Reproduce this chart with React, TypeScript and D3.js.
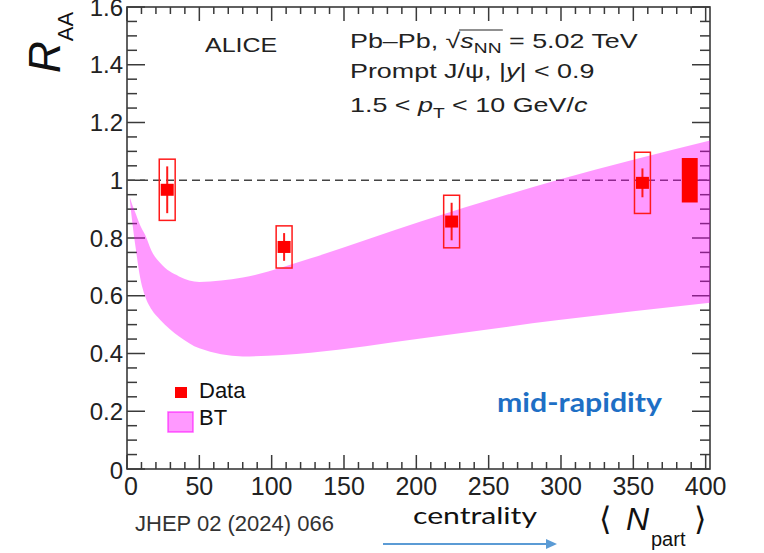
import React, { useEffect, useRef } from 'react';
import * as d3 from 'd3';

// prompt J/psi R_AA vs <Npart>, ALICE Pb-Pb 5.02 TeV
const npart = [27.8, 108.6, 224.4, 356.3];
const raa = [0.967, 0.769, 0.857, 0.991];
const statErr = [0.081, 0.048, 0.065, 0.05];
const systErr = [0.106, 0.073, 0.091, 0.106];
const globalX = 389;
const globalErr = 0.077;

// BT model band
const bandN = [2, 4, 6, 9, 12.6, 17, 23, 36, 50, 80, 127, 203, 297, 403];
const bandHi = [0.94, 0.91, 0.885, 0.845, 0.81, 0.755, 0.713, 0.667, 0.648, 0.663, 0.73, 0.857, 1.0, 1.138];
const bandLo = [0.93, 0.84, 0.765, 0.665, 0.597, 0.552, 0.516, 0.459, 0.418, 0.39, 0.403, 0.452, 0.515, 0.576];

const xTickLabels = ['0', '50', '100', '150', '200', '250', '300', '350', '400'];
const yTickLabels = ['0', '0.2', '0.4', '0.6', '0.8', '1', '1.2', '1.4', '1.6'];

const W = 764;
const H = 553;
const FONT = "'Liberation Sans', Arial, Helvetica, sans-serif";

const App = () => {
  const svgRef = useRef<SVGSVGElement>(null);

  useEffect(() => {
    const svg = d3.select(svgRef.current);
    svg.selectAll('*').remove();

    const x = d3.scaleLinear().domain([0, 403]).range([127, 710]);
    const y = d3.scaleLinear().domain([0, 1.6]).range([469, 7]);
    const [x0, x1] = x.range();
    const [y0, y1] = y.range();
    const axisColor = '#3a3a3a';

    svg.append('rect').attr('width', W).attr('height', H).attr('fill', '#fff');

    // frame
    svg.append('rect')
      .attr('x', x0).attr('y', y1)
      .attr('width', x1 - x0).attr('height', y0 - y1)
      .attr('fill', 'none').attr('stroke', axisColor).attr('stroke-width', 1.6);

    // ticks
    const ticks = svg.append('g').attr('stroke', axisColor).attr('stroke-width', 1.5);
    d3.range(0, 401, 10).forEach(v => {
      const len = v % 50 === 0 ? 14 : 7;
      ticks.append('line').attr('x1', x(v)).attr('x2', x(v)).attr('y1', y0).attr('y2', y0 - len);
      ticks.append('line').attr('x1', x(v)).attr('x2', x(v)).attr('y1', y1).attr('y2', y1 + len);
    });
    d3.range(0, 33).forEach(i => {
      const len = i % 4 === 0 ? 18 : 10;
      const yy = y(i * 0.05);
      ticks.append('line').attr('x1', x0).attr('x2', x0 + len).attr('y1', yy).attr('y2', yy);
      ticks.append('line').attr('x1', x1).attr('x2', x1 - len).attr('y1', yy).attr('y2', yy);
    });

    // tick labels
    svg.append('g').selectAll('text')
      .data(xTickLabels)
      .join('text')
      .attr('x', d => x(+d) + (d === '0' ? 4 : 0))
      .attr('y', 495)
      .attr('text-anchor', 'middle')
      .attr('font-family', FONT)
      .attr('font-size', 25)
      .attr('fill', '#222')
      .text(d => d);

    svg.append('g').selectAll('text')
      .data(yTickLabels)
      .join('text')
      .attr('x', 123)
      .attr('y', d => y(+d) + (d === '0' ? 10 : 8.5))
      .attr('text-anchor', 'end')
      .attr('font-family', FONT)
      .attr('font-size', 24)
      .attr('fill', '#222')
      .text(d => d);

    // unity line
    svg.append('line')
      .attr('x1', x0).attr('x2', x1)
      .attr('y1', y(1)).attr('y2', y(1))
      .attr('stroke', '#444').attr('stroke-width', 1.5)
      .attr('stroke-dasharray', '8,5');

    // model band
    const area = d3.area<number>()
      .x((d, i) => x(bandN[i]))
      .y0((d, i) => y(bandLo[i]))
      .y1(d => y(d))
      .curve(d3.curveMonotoneX);
    svg.append('path')
      .attr('d', area(bandHi))
      .attr('fill', '#ff00ff')
      .attr('fill-opacity', 0.4);

    // data
    const boxHalf = 5.5;
    const pts = npart.map((n, i) => ({ n, r: raa[i], st: statErr[i], sy: systErr[i] }));
    const dg = svg.append('g');
    pts.forEach(p => {
      dg.append('rect')
        .attr('x', x(p.n - boxHalf))
        .attr('y', y(p.r + p.sy))
        .attr('width', x(p.n + boxHalf) - x(p.n - boxHalf))
        .attr('height', y(p.r - p.sy) - y(p.r + p.sy))
        .attr('fill', 'none')
        .attr('stroke', '#ff1a1a')
        .attr('stroke-width', 1.5);
      dg.append('line')
        .attr('x1', x(p.n)).attr('x2', x(p.n))
        .attr('y1', y(p.r - p.st)).attr('y2', y(p.r + p.st))
        .attr('stroke', '#ff1a1a').attr('stroke-width', 2);
      dg.append('rect')
        .attr('x', x(p.n) - 6.5).attr('y', y(p.r) - 6)
        .attr('width', 13).attr('height', 12)
        .attr('fill', '#ff0000');
    });
    dg.append('rect')
      .attr('x', x(globalX - boxHalf))
      .attr('y', y(1 + globalErr))
      .attr('width', x(globalX + boxHalf) - x(globalX - boxHalf))
      .attr('height', y(1 - globalErr) - y(1 + globalErr))
      .attr('fill', '#ff0000');

    // y title
    const yt = svg.append('text')
      .attr('transform', 'translate(60,73) rotate(-90)')
      .attr('font-family', FONT)
      .attr('fill', '#111');
    yt.append('tspan').attr('font-size', 44).attr('font-style', 'italic').text('R');
    yt.append('tspan').attr('font-size', 22).attr('dy', 13).text('AA');

    // header texts
    svg.append('text')
      .attr('transform', 'translate(205,52) scale(1.25,1)')
      .attr('font-family', FONT).attr('font-size', 20).attr('fill', '#222')
      .text('ALICE');

    const hdr = svg.append('g')
      .attr('transform', 'translate(350,0) scale(1.28,1)')
      .attr('font-family', FONT)
      .attr('fill', '#222');

    // write runs of text one after the other, return x of each run start
    const runs = (g, x0: number, y0: number, parts: any[]) => {
      let cx = x0;
      const pos: number[] = [];
      parts.forEach(p => {
        const t = g.append('text')
          .attr('x', cx)
          .attr('y', y0 + (p.dy || 0))
          .attr('font-size', p.size || 21)
          .attr('font-style', p.it ? 'italic' : 'normal')
          .style('white-space', 'pre')
          .text(p.t);
        pos.push(cx);
        cx += (t.node() as SVGTextElement).getComputedTextLength();
      });
      pos.push(cx);
      return pos;
    };

    const p1 = runs(hdr, 0, 48, [
      { t: 'Pb–Pb, ' },
      { t: '√' },
      { t: 's', it: true },
      { t: 'NN', size: 15, dy: 5 },
      { t: ' = 5.02 TeV' },
    ]);
    hdr.append('line')
      .attr('x1', p1[2] - 1).attr('x2', p1[4] + 1)
      .attr('y1', 30).attr('y2', 30)
      .attr('stroke', '#222').attr('stroke-width', 1);

    runs(hdr, 0, 78, [
      { t: 'Prompt J/ψ, |' },
      { t: 'y', it: true },
      { t: '| < 0.9' },
    ]);

    runs(hdr, 0, 112, [
      { t: '1.5 < ' },
      { t: 'p', it: true },
      { t: 'T', size: 15, dy: 6 },
      { t: ' < 10 GeV/' },
      { t: 'c', it: true },
    ]);

    // legend
    svg.append('rect').attr('x', 175).attr('y', 387).attr('width', 12).attr('height', 11).attr('fill', '#ff0000');
    svg.append('rect').attr('x', 168).attr('y', 412).attr('width', 25).attr('height', 20)
      .attr('fill', '#ff00ff').attr('fill-opacity', 0.4)
      .attr('stroke', '#ff00ff').attr('stroke-opacity', 0.6).attr('stroke-width', 1.5);
    svg.append('text').attr('x', 199).attr('y', 398)
      .attr('font-family', FONT).attr('font-size', 22).attr('fill', '#111').text('Data');
    svg.append('text').attr('x', 199).attr('y', 425)
      .attr('font-family', FONT).attr('font-size', 22).attr('fill', '#111').text('BT');

    svg.append('text')
      .attr('x', 497).attr('y', 412)
      .attr('font-family', "Lato, 'Open Sans', sans-serif")
      .attr('font-weight', 'bold').attr('font-size', 27)
      .attr('fill', '#1e6fc5')
      .attr('textLength', 165)
      .attr('lengthAdjust', 'spacingAndGlyphs')
      .text('mid-rapidity');

    // bottom annotations
    svg.append('text')
      .attr('x', 135).attr('y', 530.5)
      .attr('font-family', FONT).attr('font-size', 22).attr('fill', '#333')
      .text('JHEP 02 (2024) 066');

    svg.append('text')
      .attr('x', 413).attr('y', 524)
      .attr('font-family', "Lato, 'Open Sans', sans-serif")
      .attr('font-size', 24).attr('fill', '#111')
      .attr('textLength', 124)
      .attr('lengthAdjust', 'spacingAndGlyphs')
      .text('centrality');

    svg.append('line')
      .attr('x1', 383).attr('x2', 548).attr('y1', 544).attr('y2', 544)
      .attr('stroke', '#5b9bd5').attr('stroke-width', 2);
    svg.append('path')
      .attr('d', 'M546,539 L557,544 L546,549 Z')
      .attr('fill', '#5b9bd5');

    const npg = svg.append('g').attr('fill', '#111');
    npg.append('text').attr('x', 599).attr('y', 530)
      .attr('font-family', "'DejaVu Sans', sans-serif").attr('font-size', 32).text('⟨');
    npg.append('text').attr('x', 626).attr('y', 530)
      .attr('font-family', FONT).attr('font-size', 32).attr('font-style', 'italic').text('N');
    npg.append('text').attr('x', 651).attr('y', 546)
      .attr('font-family', FONT).attr('font-size', 20).text('part');
    npg.append('text').attr('x', 694).attr('y', 530)
      .attr('font-family', "'DejaVu Sans', sans-serif").attr('font-size', 32).text('⟩');
  }, []);

  return (
    <svg
      ref={svgRef}
      width={W}
      height={H}
      style={{ position: 'absolute', left: 0, top: 0 }}
    ></svg>
  );
};

export default App;
